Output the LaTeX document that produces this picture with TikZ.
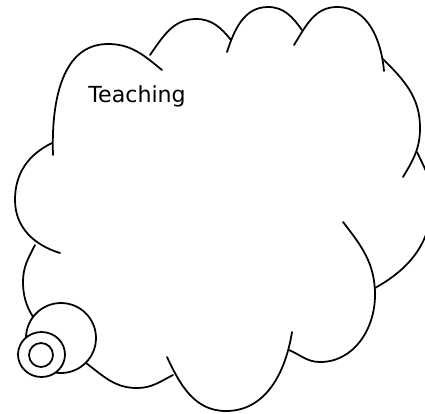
\documentclass[tikz,border=0pt]{standalone}
\usepackage{fontspec}
\newfontfamily\cloudfont{DejaVu Sans}
\tikzset{lobe/.style={line width=1pt, line cap=round}}
\tikzset{bubble/.style={line width=1pt, fill=white}}

\begin{document}
\begin{tikzpicture}[x=0.02cm, y=0.02cm]
  \useasboundingbox (0,0) rectangle (425,-413);
  \clip (0,0) rectangle (425,-413);

  \coordinate (A1) at (53,-155);
  \coordinate (A2) at (108,-44);
  \coordinate (A3) at (162,-70);
  \draw[lobe] (A1) to[out=92,in=180] (A2) to[out=0,in=141] (A3);

  \coordinate (B1) at (150,-55);
  \coordinate (B2) at (196,-19);
  \coordinate (B3) at (231,-40);
  \draw[lobe] (B1) to[out=55,in=180] (B2) to[out=0,in=129] (B3);

  \coordinate (C1) at (227,-52);
  \coordinate (C2) at (268,-7);
  \coordinate (C3) at (302,-30);
  \draw[lobe] (C1) to[out=72,in=180] (C2) to[out=0,in=126] (C3);

  \coordinate (D1) at (294,-45);
  \coordinate (D2) at (337,-7);
  \coordinate (D3) at (384,-71);
  \draw[lobe] (D1) to[out=58,in=180] (D2) to[out=0,in=95] (D3);

  \coordinate (E1) at (383,-59);
  \coordinate (E2) at (420,-128);
  \coordinate (E3) at (403,-177);
  \draw[lobe] (E1) to[out=-45,in=90] (E2) to[out=-90,in=59] (E3);

  \coordinate (F1) at (417,-152);
  \coordinate (F2) at (432,-200);
  \coordinate (F3) at (375,-288);
  \draw[lobe] (F1) to[out=-65,in=90] (F2) to[out=-90,in=29] (F3);

  \coordinate (G1) at (343,-222);
  \coordinate (G2) at (375,-295);
  \coordinate (G3) at (320,-362);
  \coordinate (G4) at (289,-350);
  \draw[lobe] (G1) to[out=-52,in=90] (G2) to[out=-90,in=0] (G3) to[out=180,in=-23] (G4);

  \coordinate (H1) at (167,-357);
  \coordinate (H2) at (226,-411);
  \coordinate (H3) at (292,-332);
  \draw[lobe] (H1) to[out=-65,in=180] (H2) to[out=0,in=-99] (H3);

  \coordinate (I1) at (35,-245);
  \coordinate (I2) at (23,-282);
  \coordinate (I3) at (86,-363);
  \coordinate (I4) at (137,-388);
  \coordinate (I5) at (173,-375);
  \draw[lobe] (I1) to[out=-117,in=90] (I2) to[out=-90,in=143] (I3)
    to[out=-37,in=180] (I4) to[out=0,in=-153] (I5);

  \coordinate (J1) at (52,-143);
  \coordinate (J2) at (15,-200);
  \coordinate (J3) at (60,-253);
  \draw[lobe] (J1) to[out=-154,in=90] (J2) to[out=-90,in=163] (J3);

  % thought bubbles
  \coordinate (bigC) at (61,-338);
  \coordinate (midC) at (41.5,-354.5);
  \coordinate (innC) at (41,-355);
  \draw[bubble] (bigC) circle (35);
  \draw[bubble] (midC) ellipse (23.5 and 22.5);
  \draw[bubble] (innC) circle (12);

  \node[anchor=base west, inner sep=0pt, font=\cloudfont\fontsize{12.6}{15}\selectfont] (teach) at (88,-102) {Teaching};
\end{tikzpicture}
\end{document}
